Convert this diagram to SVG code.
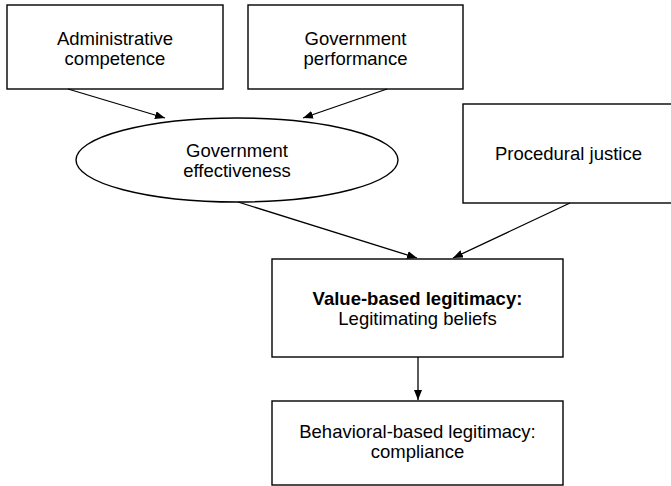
<svg xmlns="http://www.w3.org/2000/svg" width="671" height="486" viewBox="0 0 671 486">
<style>
.box{fill:#fff;stroke:#000;stroke-width:1.4}
.t{font-family:"Liberation Sans",Arial,sans-serif;font-size:18.5px;fill:#000;text-anchor:middle}
.b{font-weight:bold}
.c{stroke:#000;stroke-width:1.3;fill:none;marker-end:url(#ah)}
</style>
<defs>
<marker id="ah" viewBox="0 0 10 8" refX="10" refY="4" markerWidth="10" markerHeight="8" markerUnits="userSpaceOnUse" orient="auto">
<path d="M0,0 L10,4 L0,8 Z" fill="#000"/>
</marker>
</defs>
<rect width="671" height="486" fill="#fff"/>
<g id="admin">
<rect class="box" x="7" y="5" width="216" height="84"/>
<text class="t" x="115" y="45">Administrative</text>
<text class="t" x="115" y="65">competence</text>
</g>
<g id="perf">
<rect class="box" x="248" y="5" width="215" height="84"/>
<text class="t" x="355.5" y="45">Government</text>
<text class="t" x="355.5" y="65">performance</text>
</g>
<g id="effect">
<ellipse class="box" cx="237" cy="160" rx="161" ry="42"/>
<text class="t" x="237" y="157">Government</text>
<text class="t" x="237" y="177">effectiveness</text>
</g>
<g id="proc">
<rect class="box" x="463" y="104" width="215" height="99"/>
<text class="t" x="568.5" y="160">Procedural justice</text>
</g>
<g id="value">
<rect class="box" x="272" y="259" width="291" height="98"/>
<text class="t b" x="417.5" y="305">Value-based legitimacy:</text>
<text class="t" x="417.5" y="325">Legitimating beliefs</text>
</g>
<g id="behav">
<rect class="box" x="272" y="401" width="291" height="84"/>
<text class="t" x="417.5" y="438">Behavioral-based legitimacy:</text>
<text class="t" x="417.5" y="458">compliance</text>
</g>
<g id="connectors">
<line class="c" x1="68" y1="89" x2="165" y2="118"/>
<line class="c" x1="387" y1="89" x2="303" y2="118"/>
<line class="c" x1="238" y1="202" x2="417" y2="258"/>
<line class="c" x1="570" y1="203" x2="453" y2="258"/>
<line class="c" x1="418" y1="357" x2="418" y2="400"/>
</g>
</svg>
